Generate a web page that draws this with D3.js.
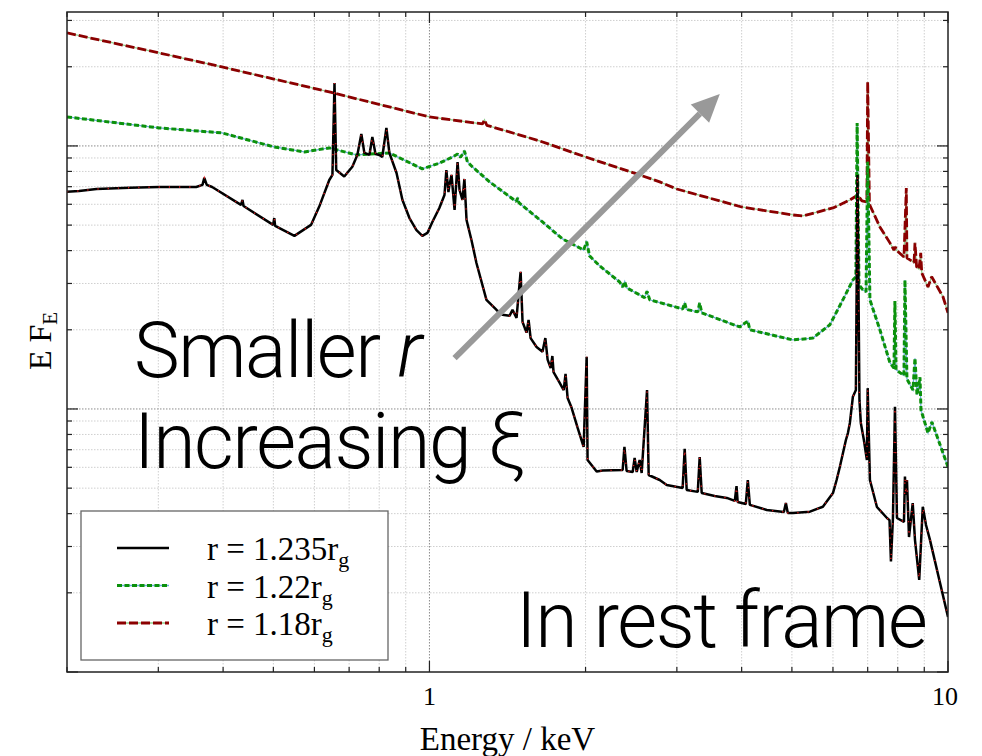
<!DOCTYPE html>
<html>
<head>
<meta charset="utf-8">
<script src="https://cdn.jsdelivr.net/npm/d3@7"></script>
<style>
  body { margin: 0; background: #fff; }
  svg { display: block; }
</style>
</head>
<body>
<svg id="chart" width="982" height="756"></svg>
<script>
// ---- Spectra: energy (keV) and E·F_E (arbitrary units) ----
const energyR1235 = [0.2,0.211,0.228,0.264,0.301,0.355,0.365,0.368,0.372,0.381,0.433,0.436,0.438,0.4996,0.502,0.504,0.549,0.591,0.613,0.641,0.650,0.656,0.661,0.685,0.710,0.726,0.739,0.749,0.766,0.776,0.787,0.801,0.811,0.826,0.837,0.864,0.887,0.915,0.944,0.969,0.991,1.013,1.045,1.069,1.078,1.088,1.093,1.103,1.118,1.133,1.143,1.158,1.168,1.179,1.205,1.232,1.288,1.347,1.383,1.427,1.446,1.472,1.499,1.512,1.539,1.553,1.567,1.609,1.652,1.673,1.690,1.713,1.726,1.735,1.782,1.815,1.830,1.847,1.880,1.931,1.983,2.010,2.018,2.101,2.158,2.358,2.377,2.400,2.466,2.487,2.510,2.543,2.566,2.628,2.647,2.780,2.868,3.078,3.106,3.134,3.292,3.320,3.350,3.549,3.745,3.880,3.910,3.930,4.074,4.111,4.148,4.473,4.825,4.868,4.910,5.022,5.416,5.737,6.000,6.098,6.187,6.355,6.412,6.468,6.555,6.643,6.690,6.749,6.790,6.883,6.976,7.000,7.070,7.294,7.626,7.713,7.762,7.831,7.902,7.972,8.224,8.260,8.290,8.334,8.410,8.550,8.636,8.800,8.940,9.070,9.230,10.0];
const fluxR1235 = [0.670,0.674,0.686,0.694,0.698,0.698,0.711,0.756,0.711,0.698,0.597,0.623,0.591,0.501,0.532,0.497,0.455,0.501,0.588,0.742,0.776,1.736,0.810,0.765,0.834,0.924,1.111,0.941,0.924,1.082,0.932,0.924,0.908,1.171,0.941,0.789,0.623,0.532,0.479,0.455,0.467,0.514,0.581,0.651,0.810,0.668,0.711,0.776,0.571,0.869,0.680,0.623,0.749,0.523,0.439,0.359,0.260,0.238,0.228,0.226,0.238,0.222,0.332,0.214,0.195,0.218,0.186,0.172,0.165,0.186,0.154,0.143,0.159,0.138,0.126,0.118,0.136,0.110,0.101,0.0847,0.0717,0.158,0.0640,0.0578,0.0583,0.0586,0.0717,0.0581,0.0576,0.0651,0.0576,0.0640,0.0571,0.118,0.0561,0.0537,0.0514,0.0501,0.0705,0.0492,0.0484,0.0657,0.0479,0.0467,0.0459,0.0447,0.0509,0.0443,0.0435,0.0537,0.0432,0.0413,0.0406,0.0439,0.0402,0.0402,0.0407,0.0425,0.0479,0.0537,0.0603,0.0762,0.081,0.0885,0.1113,0.118,0.776,0.108,0.0885,0.0762,0.0640,0.120,0.0537,0.0424,0.0385,0.0378,0.0263,0.0385,0.102,0.0385,0.0372,0.0553,0.0471,0.0537,0.0326,0.0439,0.0318,0.0224,0.0425,0.0362,0.0318,0.0162];

const energyR122 = [0.2,0.301,0.398,0.502,0.574,0.641,0.723,0.837,0.969,1.045,1.108,1.133,1.148,1.168,1.184,1.211,1.306,1.396,1.470,1.479,1.488,1.652,1.806,1.983,2.010,2.036,2.129,2.327,2.358,2.380,2.400,2.600,2.628,2.659,3.078,3.106,3.130,3.292,3.320,3.350,3.966,4.111,4.148,5.022,5.488,5.918,6.270,6.555,6.643,6.680,6.735,6.852,6.950,7.000,7.070,7.390,7.727,7.867,7.900,7.940,8.224,8.260,8.334,8.560,8.636,8.714,8.830,8.870,9.150,9.310,10.0];
const fluxR122 = [1.289,1.171,1.121,0.991,0.949,0.983,0.924,0.941,0.818,0.860,0.908,0.932,0.905,0.957,0.869,0.832,0.730,0.663,0.615,0.634,0.608,0.514,0.443,0.402,0.432,0.382,0.350,0.304,0.291,0.305,0.289,0.265,0.280,0.260,0.240,0.253,0.239,0.234,0.253,0.232,0.205,0.216,0.200,0.183,0.186,0.209,0.260,0.309,0.318,1.223,0.296,0.284,0.279,0.871,0.260,0.200,0.150,0.143,0.257,0.141,0.134,0.309,0.130,0.118,0.156,0.113,0.132,0.0991,0.081,0.0892,0.0602];

const energyR118 = [0.2,0.301,0.398,0.641,1.0,1.266,1.277,1.290,1.631,2.0,2.543,2.780,2.998,4.0,5.022,5.25,6.0,6.468,6.70,6.823,6.976,7.0,7.055,7.39,7.727,7.867,7.92,7.97,8.224,8.31,8.334,8.446,8.60,8.636,8.70,8.79,8.86,8.90,9.15,9.30,9.78,10.0];
const fluxR118 = [2.689,2.258,1.997,1.604,1.289,1.212,1.256,1.198,1.045,0.908,0.776,0.730,0.686,0.586,0.5465,0.5418,0.581,0.623,0.651,0.618,0.612,1.751,0.600,0.492,0.428,0.402,0.413,0.400,0.378,0.692,0.375,0.369,0.360,0.428,0.347,0.340,0.392,0.329,0.291,0.318,0.267,0.232];

// ---- Axes ----
const energyDomain = [0.2, 10];
const fluxDomain = [0.01, 3.23];
const xTickValues = [0.2,0.3,0.4,0.5,0.6,0.7,0.8,0.9,1,2,3,4,5,6,7,8,9,10];
const xMajorTicks = [1, 10];
const xTickLabels = ["1", "10"];
const yTickValues = [0.01,0.02,0.03,0.04,0.05,0.06,0.07,0.08,0.09,0.1,0.2,0.3,0.4,0.5,0.6,0.7,0.8,0.9,1,2,3];
const yMajorTicks = [0.01, 0.1, 1];

// ---- Legend and annotation ----
const seriesRadii = ["1.235", "1.22", "1.18"];
const arrowFrom = [1.118, 0.156];   // (keV, E·F_E)
const arrowTo = [3.63, 1.577];

const svg = d3.select("#chart");
const plot = { left: 67, top: 12, right: 948, bottom: 672 };

const x = d3.scaleLog().domain(energyDomain).range([plot.left, plot.right]);
const y = d3.scaleLog().domain(fluxDomain).range([plot.bottom, plot.top]);

svg.append("defs").append("clipPath").attr("id", "plotClip")
  .append("rect")
  .attr("x", plot.left).attr("y", plot.top)
  .attr("width", plot.right - plot.left).attr("height", plot.bottom - plot.top);

// grid
const grid = svg.append("g");
xTickValues.filter(v => v > energyDomain[0] && v < energyDomain[1]).forEach(v => {
  const major = xMajorTicks.includes(v);
  grid.append("line")
    .attr("x1", x(v)).attr("x2", x(v)).attr("y1", plot.top).attr("y2", plot.bottom)
    .attr("stroke", major ? "#8c8c8c" : "#cfcfcf")
    .attr("stroke-width", 1)
    .attr("stroke-dasharray", "1.5,1.5");
});
yTickValues.filter(v => v > fluxDomain[0] && v < fluxDomain[1]).forEach(v => {
  const major = yMajorTicks.includes(v);
  grid.append("line")
    .attr("x1", plot.left).attr("x2", plot.right).attr("y1", y(v)).attr("y2", y(v))
    .attr("stroke", major ? "#8c8c8c" : "#cfcfcf")
    .attr("stroke-width", 1)
    .attr("stroke-dasharray", "1.5,1.5");
});

// spectra
const line = d3.line().x(d => x(d[0])).y(d => y(d[1]));
const zip = (a, b) => a.map((v, i) => [v, b[i]]);
const curves = svg.append("g").attr("clip-path", "url(#plotClip)");

const seriesStyles = [
  { data: zip(energyR118, fluxR118), under: { stroke: "#93cf8f", width: 1.3 },
    main: { stroke: "#8b0000", width: 2.8, dash: "9,3" } },
  { data: zip(energyR122, fluxR122), under: { stroke: "#6aaed6", width: 1.3 },
    main: { stroke: "#0b910b", width: 3, dash: "5,2.5" } },
  { data: zip(energyR1235, fluxR1235), under: null,
    main: { stroke: "#000", width: 2.5, dash: null },
    over: { stroke: "#e31a1c", width: 1.4, dash: "1.2,9" } }
];

seriesStyles.forEach(s => {
  if (s.under) {
    curves.append("path").datum(s.data).attr("d", line)
      .attr("fill", "none").attr("stroke", s.under.stroke).attr("stroke-width", s.under.width);
  }
  curves.append("path").datum(s.data).attr("d", line)
    .attr("fill", "none").attr("stroke", s.main.stroke).attr("stroke-width", s.main.width)
    .attr("stroke-dasharray", s.main.dash).attr("stroke-linejoin", "bevel");
  if (s.over) {
    curves.append("path").datum(s.data).attr("d", line)
      .attr("fill", "none").attr("stroke", s.over.stroke).attr("stroke-width", s.over.width)
      .attr("stroke-dasharray", s.over.dash);
  }
});

// frame and inward ticks on all four sides
const frame = svg.append("g").attr("stroke", "#222").attr("fill", "none");
frame.append("rect")
  .attr("x", plot.left).attr("y", plot.top)
  .attr("width", plot.right - plot.left).attr("height", plot.bottom - plot.top)
  .attr("stroke-width", 1.5);
xTickValues.forEach(v => {
  const len = xMajorTicks.includes(v) ? 11 : 5;
  frame.append("line").attr("x1", x(v)).attr("x2", x(v)).attr("y1", plot.bottom).attr("y2", plot.bottom - len).attr("stroke-width", 1.2);
  frame.append("line").attr("x1", x(v)).attr("x2", x(v)).attr("y1", plot.top).attr("y2", plot.top + len).attr("stroke-width", 1.2);
});
yTickValues.forEach(v => {
  const len = yMajorTicks.includes(v) ? 11 : 5;
  frame.append("line").attr("y1", y(v)).attr("y2", y(v)).attr("x1", plot.left).attr("x2", plot.left + len).attr("stroke-width", 1.2);
  frame.append("line").attr("y1", y(v)).attr("y2", y(v)).attr("x1", plot.right).attr("x2", plot.right - len).attr("stroke-width", 1.2);
});

// tick labels
const serif = "'Liberation Serif', 'DejaVu Serif', serif";
xMajorTicks.forEach((v, i) => {
  svg.append("text")
    .attr("x", x(v) - (v === 10 ? 3 : 0)).attr("y", 705)
    .attr("text-anchor", "middle")
    .attr("font-family", serif).attr("font-size", 26)
    .text(xTickLabels[i]);
});

// axis titles
svg.append("text")
  .attr("x", (plot.left + plot.right) / 2).attr("y", 750)
  .attr("text-anchor", "middle")
  .attr("font-family", serif).attr("font-size", 33)
  .text("Energy / keV");

const yTitle = svg.append("text")
  .attr("transform", "translate(51,341) rotate(-90)")
  .attr("text-anchor", "middle")
  .attr("font-family", serif).attr("font-size", 32);
yTitle.append("tspan").text("E F");
yTitle.append("tspan").attr("font-size", 21).attr("dy", 6).text("E");

// legend
const legend = svg.append("g");
legend.append("rect")
  .attr("x", 81).attr("y", 511).attr("width", 307).attr("height", 149)
  .attr("fill", "#fff").attr("stroke", "#666").attr("stroke-width", 1.3);
const legendOrder = [2, 1, 0];
legendOrder.forEach((si, i) => {
  const s = seriesStyles[si];
  const ly = 548 + i * 37.5;
  if (s.under) {
    legend.append("line").attr("x1", 117).attr("x2", 169).attr("y1", ly).attr("y2", ly)
      .attr("stroke", s.under.stroke).attr("stroke-width", s.under.width);
  }
  legend.append("line").attr("x1", 117).attr("x2", 169).attr("y1", ly).attr("y2", ly)
    .attr("stroke", s.main.stroke).attr("stroke-width", s.main.width)
    .attr("stroke-dasharray", s.main.dash);
  const t = legend.append("text")
    .attr("x", 207).attr("y", ly + 12)
    .attr("font-family", serif).attr("font-size", 33);
  t.append("tspan").text("r = " + seriesRadii[i] + "r");
  t.append("tspan").attr("font-size", 22).attr("dy", 7).text("g");
});

// trend arrow
const ax0 = x(arrowFrom[0]), ay0 = y(arrowFrom[1]);
const ax1 = x(arrowTo[0]), ay1 = y(arrowTo[1]);
const ang = Math.atan2(ay1 - ay0, ax1 - ax0);
const headLen = 28, headHalf = 13;
const bx = ax1 - headLen * Math.cos(ang), by = ay1 - headLen * Math.sin(ang);
svg.append("line")
  .attr("x1", ax0).attr("y1", ay0).attr("x2", bx).attr("y2", by)
  .attr("stroke", "#999").attr("stroke-width", 6);
svg.append("polygon")
  .attr("points", [
    [ax1, ay1],
    [bx + headHalf * Math.sin(ang), by - headHalf * Math.cos(ang)],
    [bx - headHalf * Math.sin(ang), by + headHalf * Math.cos(ang)]
  ].map(p => p.join(",")).join(" "))
  .attr("fill", "#999");

// annotations
const sans = "Roboto, 'Open Sans', Lato, sans-serif";
const noteStyle = sel => sel
  .attr("font-family", sans).attr("font-weight", 300)
  .attr("font-size", 77).attr("letter-spacing", -1.4);
const note1 = svg.append("text").attr("x", 134).attr("y", 377).call(noteStyle);
note1.append("tspan").text("Smaller ");
note1.append("tspan").attr("font-style", "italic").text("r");
svg.append("text").attr("x", 134).attr("y", 468).call(noteStyle).text("Increasing ξ");
svg.append("text").attr("x", 516).attr("y", 647).call(noteStyle).text("In rest frame");
</script>
</body>
</html>
